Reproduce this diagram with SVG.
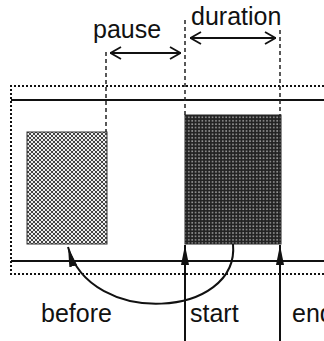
<svg xmlns="http://www.w3.org/2000/svg" width="324" height="341" viewBox="0 0 324 341">
<style>
text{font-family:"Liberation Sans",Arial,sans-serif;font-size:25px;fill:#111}
.dash{stroke:#222;stroke-width:1.5;stroke-dasharray:4 3;fill:none}
.dot{stroke:#111;stroke-width:2;stroke-dasharray:2 2;fill:none}
.solid{stroke:#111;stroke-width:2;fill:none}
.conn{stroke:#111;stroke-width:2;fill:none}
</style>
<defs>
<pattern id="hatch" width="4" height="4" patternUnits="userSpaceOnUse">
<rect width="4" height="4" fill="#eee"/>
<path d="M0,0 L4,4 M4,0 L0,4" stroke="#444" stroke-width="1"/>
</pattern>
<pattern id="dots" width="3.4" height="3.4" patternUnits="userSpaceOnUse">
<rect width="3.4" height="3.4" fill="#222"/>
<rect x="1" y="1" width="1.6" height="1.6" fill="#999"/>
</pattern>
<marker id="open" viewBox="0 0 12 14" refX="12" refY="7" markerWidth="12" markerHeight="14" markerUnits="userSpaceOnUse" orient="auto-start-reverse">
<path d="M1,1 L11.5,7 L1,13" fill="none" stroke="#111" stroke-width="1.8"/>
</marker>
<marker id="up" viewBox="0 0 20 10" refX="20" refY="5" markerWidth="20" markerHeight="10" markerUnits="userSpaceOnUse" orient="auto">
<path d="M0,1 L20,5 L0,9 z" fill="#111"/>
</marker>
</defs>
<g id="frame">
<path class="dot" d="M324,86 H11 V274 H324"/>
<line class="solid" x1="11" y1="100" x2="324" y2="100"/>
<line class="solid" x1="11" y1="261" x2="324" y2="261"/>
</g>
<g id="before-block">
<rect x="27" y="132" width="80" height="112" fill="url(#hatch)" stroke="#333" stroke-width="1"/>
</g>
<g id="active-block">
<rect x="185" y="115" width="96" height="129" fill="url(#dots)" stroke="#222" stroke-width="1"/>
</g>
<g id="guides">
<line class="dash" x1="106" y1="52" x2="106" y2="132"/>
<line class="dash" x1="185" y1="20" x2="185" y2="115"/>
<line class="dash" x1="280" y1="30" x2="280" y2="115"/>
</g>
<g id="labels">
<text x="93" y="38">pause</text>
<text x="191" y="25">duration</text>
<text x="41" y="322">before</text>
<text x="190" y="322">start</text>
<text x="292" y="322">end</text>
</g>
<g id="connectors">
<line class="conn" x1="110" y1="53" x2="181" y2="53" marker-start="url(#open)" marker-end="url(#open)"/>
<line class="conn" x1="190" y1="38" x2="276" y2="38" marker-start="url(#open)" marker-end="url(#open)"/>
<line class="conn" x1="185" y1="341" x2="185" y2="245" marker-end="url(#up)"/>
<line class="conn" x1="280" y1="341" x2="280" y2="245" marker-end="url(#up)"/>
<path class="conn" d="M233,244 C240,318 90,328 68,247" marker-end="url(#up)"/>
</g>
</svg>
